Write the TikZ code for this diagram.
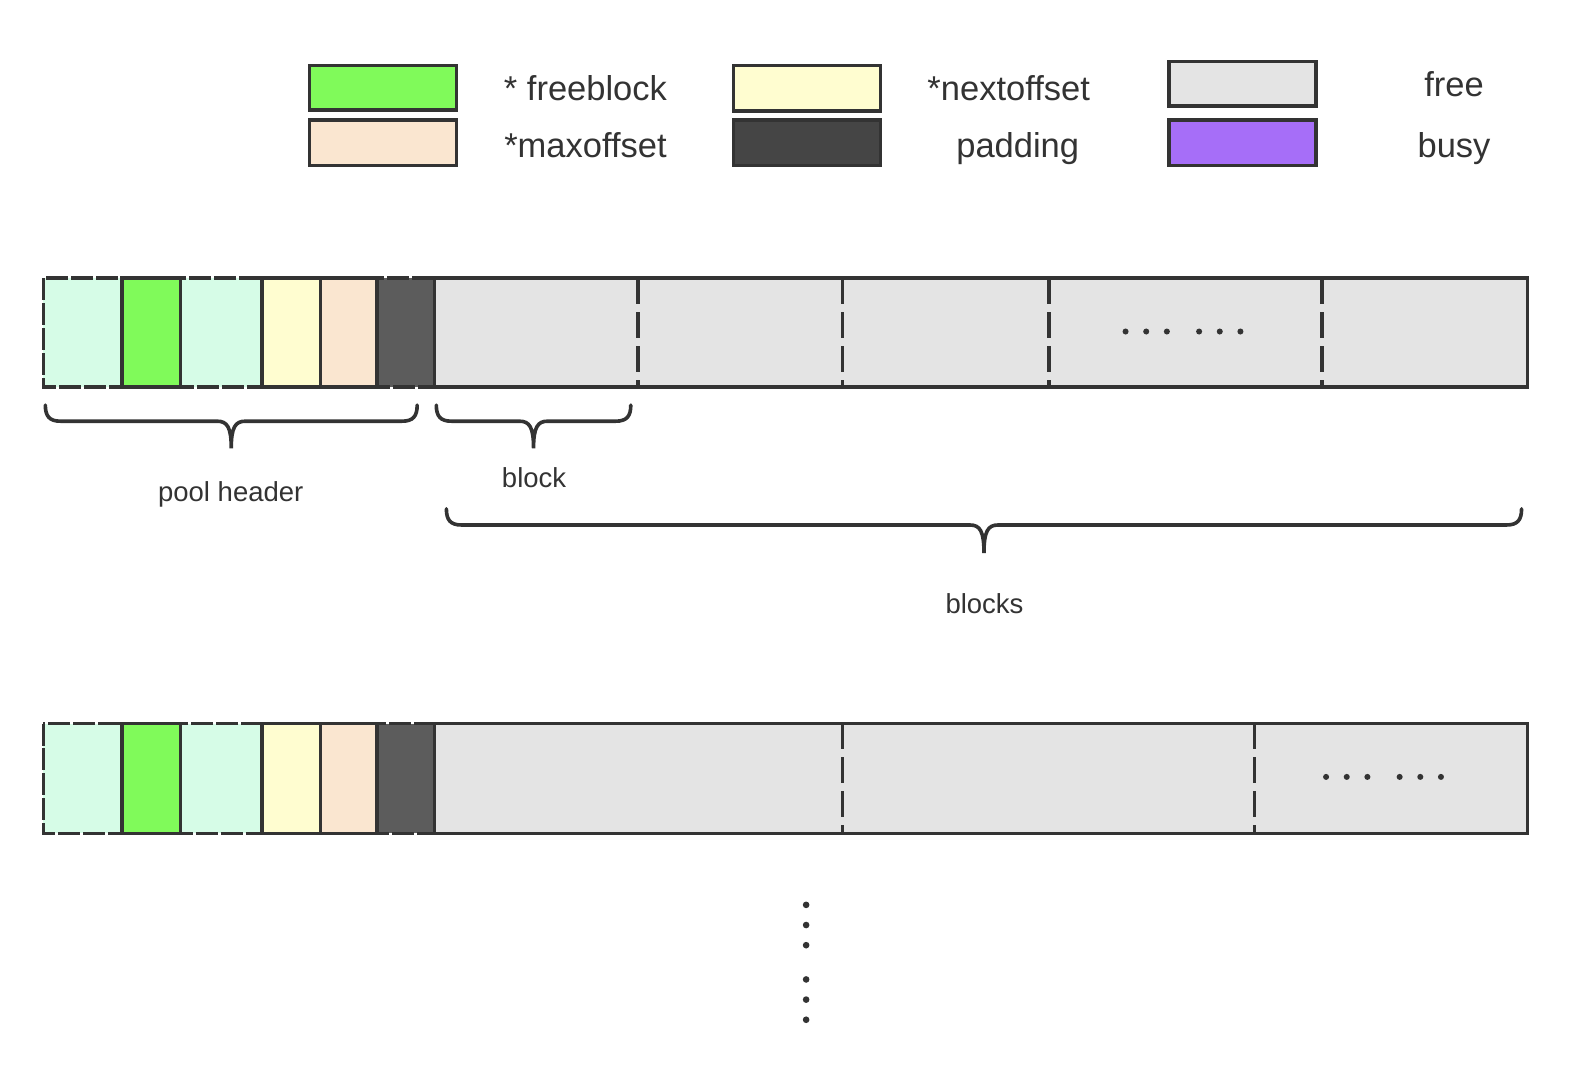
\documentclass[tikz,border=0pt]{standalone}
\usepackage{fontspec}
\setmainfont{Liberation Sans}
\definecolor{edge}{HTML}{333333}
\definecolor{txt}{HTML}{333333}
\definecolor{mint}{HTML}{D6FCE7}
\definecolor{lgreen}{HTML}{80FA5A}
\definecolor{lyellow}{HTML}{FFFDD0}
\definecolor{peach}{HTML}{FAE6D0}
\definecolor{darkpad}{HTML}{5C5C5C}
\definecolor{legpad}{HTML}{454545}
\definecolor{freegray}{HTML}{E4E4E4}
\definecolor{busyp}{HTML}{A66EF8}
\newcommand\myhbrace[6]{% x0, x1, mid, top, line, tip
  \draw[bracestyle] (#1,#4) .. controls (#1,#5-5) and (#1+4,#5) .. (#1+15,#5)
    -- (#3-14,#5) .. controls (#3-4,#5) and (#3,#5+6) .. (#3,#6)
    .. controls (#3,#5+6) and (#3+4,#5) .. (#3+14,#5)
    -- (#2-15,#5) .. controls (#2-4,#5) and (#2,#5-5) .. (#2,#4);}
\begin{document}
\begin{tikzpicture}[x=1.0077pt,y=-1.0077pt,
  legbox/.style={draw=edge, line width=3.5pt},
  solidcell/.style={draw=edge, line width=3.5pt},
  dashcell/.style={draw=edge, line width=3.5pt, dash pattern=on 22pt off 3pt},
  sepline/.style={draw=edge, line width=3.5pt, dash pattern=on 26pt off 8pt},
  bracestyle/.style={draw=edge, line width=3.6pt, line cap=round},
  legtext/.style={font=\fontsize{34.5}{40}\selectfont, text=txt, anchor=base, inner sep=0pt},
  lbltext/.style={font=\fontsize{27.5}{32}\selectfont, text=txt, anchor=base, inner sep=0pt},
  dotstyle/.style={fill=edge, draw=none}]
\useasboundingbox (0,0) rectangle (1568,1064);
\fill[white] (0,0) rectangle (1568,1064);

% ---------- legend ----------
\draw[legbox, fill=lgreen]   (307,65)  rectangle (453,109);
\draw[legbox, fill=peach]    (307,119) rectangle (453,164);
\draw[legbox, fill=lyellow]  (728,65)  rectangle (874,110);
\draw[legbox, fill=legpad]   (728,119) rectangle (874,164);
\draw[legbox, fill=freegray] (1160,61) rectangle (1306,105);
\draw[legbox, fill=busyp]    (1160,119) rectangle (1306,164);
\node[legtext] (lfree)  at (581,100)  {* freeblock};
\node[legtext] (lmax)   at (581,156)  {*maxoffset};
\node[legtext] (lnext)  at (1001,100) {*nextoffset};
\node[legtext] (lpad)   at (1010,156) {padding};
\node[legtext] (lfr)    at (1443,96)  {free};
\node[legtext] (lbusy)  at (1443,156) {busy};

% ---------- bars ----------
\foreach \t/\b in {276/384, 718/827}{
  \fill[mint]    (43,\t)  rectangle (121,\b);
  \fill[lgreen]  (121,\t) rectangle (179,\b);
  \fill[mint]    (179,\t) rectangle (260,\b);
  \fill[lyellow] (260,\t) rectangle (318,\b);
  \fill[peach]   (318,\t) rectangle (374,\b);
  \fill[darkpad] (374,\t) rectangle (431,\b);
  \draw[solidcell, fill=freegray] (431,\t) rectangle (1516,\b);
  \draw[solidcell] (121,\t) rectangle (179,\b);
  \draw[solidcell] (260,\t) rectangle (318,\b);
  \draw[solidcell] (318,\t) rectangle (374,\b);
  \draw[dashcell] (43,\t) rectangle (121,\b);
  \draw[dashcell] (179,\t) rectangle (260,\b);
  \draw[dashcell] (374,\t) rectangle (431,\b);
}
% separators bar 1
\foreach \x in {633,836,1041,1312}{
  \draw[sepline] (\x,276) -- (\x,384);
}
% separators bar 2
\foreach \x in {836,1245}{
  \draw[sepline] (\x,718) -- (\x,827);
}
% dots in bars
\foreach \x in {1117,1137.5,1158,1190,1210.5,1231}{
  \fill[dotstyle] (\x,329) circle (3);
}
\foreach \x in {1316,1336.5,1357,1389,1409.5,1430}{
  \fill[dotstyle] (\x,771) circle (3);
}

% ---------- braces ----------
\myhbrace{45}{414}{229.5}{402}{418}{445}
\myhbrace{433}{626}{529.5}{402}{418}{445}
\myhbrace{443}{1510}{976.5}{505}{521}{549}
\node[lbltext] (lpool)   at (229,498) {pool header};
\node[lbltext] (lblock)  at (530,484) {block};
\node[lbltext] (lblocks) at (977,609) {blocks};

% ---------- vertical dots ----------
\foreach \y in {898,918,938,972,992,1012}{
  \fill[dotstyle] (800,\y) circle (3.3);
}
\end{tikzpicture}
\end{document}
